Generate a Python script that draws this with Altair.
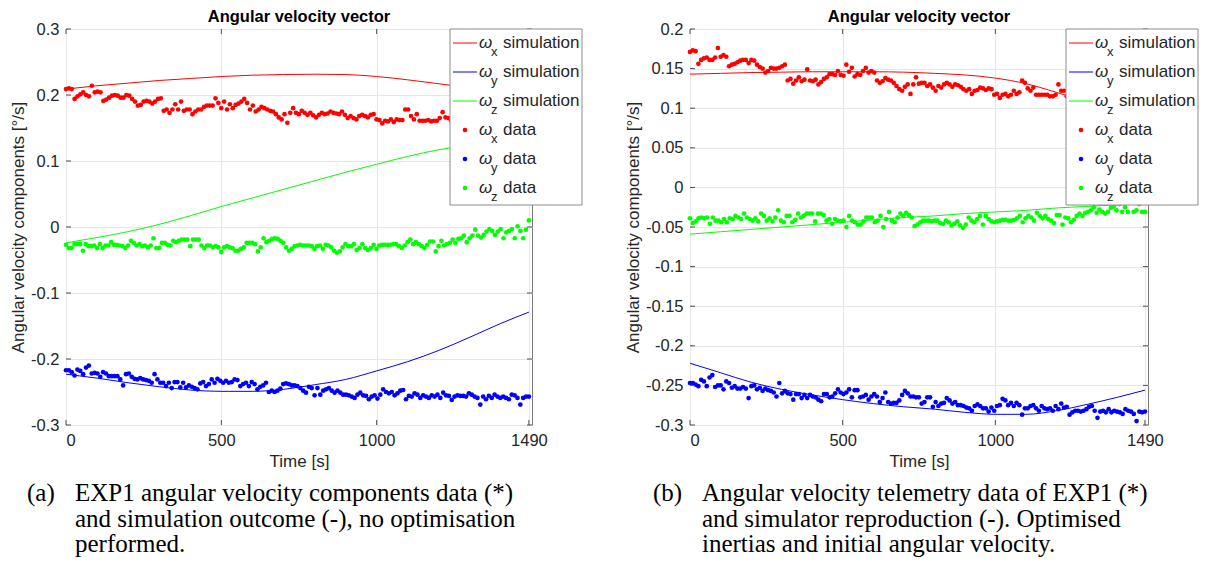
import altair as alt
import pandas as pd
import numpy as np

# ---------------- data ----------------
T_END = 1490
X_MAX = 1500

# panel (a): telemetry data
a_wx = [0.209,0.210,0.209,0.194,0.198,0.201,0.204,0.200,0.198,0.214,0.204,0.205,0.204,0.191,0.193,0.196,0.199,0.200,0.199,0.196,
        0.196,0.200,0.199,0.194,0.190,0.184,0.185,0.190,0.191,0.190,0.187,0.190,0.194,0.195,0.176,0.178,0.173,0.178,0.186,0.178,
        0.190,0.176,0.178,0.178,0.171,0.175,0.178,0.178,0.182,0.184,0.184,0.184,0.195,0.188,0.180,0.190,0.178,0.186,0.180,0.185,
        0.187,0.190,0.194,0.188,0.178,0.184,0.175,0.178,0.182,0.180,0.178,0.176,0.175,0.171,0.166,0.163,0.171,0.158,0.173,0.180,
        0.173,0.171,0.176,0.173,0.170,0.173,0.169,0.166,0.170,0.173,0.171,0.172,0.175,0.173,0.172,0.171,0.175,0.170,0.165,0.168,
        0.165,0.163,0.168,0.170,0.168,0.166,0.170,0.171,0.163,0.162,0.157,0.161,0.160,0.163,0.159,0.163,0.162,0.162,0.178,0.178,
        0.168,0.163,0.171,0.161,0.161,0.161,0.162,0.160,0.161,0.161,0.165,0.174,0.166,0.165,0.161,
        0.163,0.160,0.162,0.158,0.161,0.163,0.159,0.160,0.162,0.157,0.160,0.161,0.158,0.162,0.159,0.160,0.163,0.158,0.161,0.159,
        0.157,0.160,0.162,0.158,0.160,0.159,0.161]
a_wy = [-0.217,-0.217,-0.220,-0.225,-0.216,-0.218,-0.223,-0.213,-0.210,-0.222,-0.221,-0.222,-0.227,-0.220,-0.222,-0.226,-0.226,-0.226,-0.226,-0.231,
        -0.240,-0.223,-0.222,-0.227,-0.230,-0.231,-0.229,-0.231,-0.232,-0.233,-0.236,-0.223,-0.231,-0.236,-0.236,-0.241,-0.236,-0.244,-0.235,-0.235,
        -0.243,-0.236,-0.243,-0.240,-0.242,-0.244,-0.246,-0.237,-0.235,-0.241,-0.238,-0.231,-0.236,-0.230,-0.233,-0.236,-0.233,-0.236,-0.235,-0.231,
        -0.232,-0.241,-0.238,-0.236,-0.241,-0.235,-0.238,-0.246,-0.242,-0.240,-0.236,-0.250,-0.248,-0.250,-0.248,-0.245,-0.238,-0.237,-0.238,-0.240,
        -0.240,-0.241,-0.244,-0.248,-0.251,-0.242,-0.244,-0.255,-0.244,-0.254,-0.248,-0.246,-0.244,-0.248,-0.251,-0.248,-0.251,-0.254,-0.254,-0.255,
        -0.257,-0.259,-0.254,-0.251,-0.255,-0.256,-0.261,-0.257,-0.255,-0.260,-0.254,-0.246,-0.250,-0.252,-0.250,-0.255,-0.252,-0.248,-0.247,-0.261,
        -0.256,-0.257,-0.252,-0.254,-0.259,-0.255,-0.257,-0.259,-0.255,-0.257,-0.254,-0.259,-0.251,-0.255,-0.256,-0.262,-0.257,-0.255,-0.256,-0.256,
        -0.257,-0.252,-0.254,-0.257,-0.259,-0.269,-0.257,-0.261,-0.256,-0.259,-0.254,-0.257,-0.259,-0.257,-0.259,-0.261,-0.254,-0.255,-0.259,-0.269,
        -0.259,-0.257,-0.257]
a_wz = [-0.027,-0.032,-0.032,-0.026,-0.026,-0.026,-0.036,-0.026,-0.029,-0.029,-0.028,-0.032,-0.026,-0.032,-0.028,-0.028,-0.023,-0.027,-0.027,-0.028,
        -0.029,-0.032,-0.028,-0.021,-0.024,-0.028,-0.026,-0.029,-0.028,-0.031,-0.028,-0.017,-0.032,-0.032,-0.024,-0.024,-0.027,-0.028,-0.021,-0.023,
        -0.021,-0.019,-0.019,-0.019,-0.029,-0.019,-0.019,-0.019,-0.028,-0.032,-0.028,-0.028,-0.031,-0.029,-0.031,-0.038,-0.031,-0.029,-0.031,-0.032,
        -0.036,-0.036,-0.033,-0.031,-0.024,-0.024,-0.024,-0.026,-0.037,-0.031,-0.017,-0.023,-0.021,-0.018,-0.017,-0.018,-0.021,-0.024,-0.031,-0.036,
        -0.033,-0.029,-0.028,-0.027,-0.028,-0.028,-0.028,-0.029,-0.033,-0.029,-0.028,-0.033,-0.027,-0.028,-0.031,-0.036,-0.039,-0.037,-0.031,-0.026,
        -0.029,-0.029,-0.026,-0.035,-0.032,-0.026,-0.032,-0.035,-0.032,-0.027,-0.033,-0.028,-0.027,-0.027,-0.027,-0.027,-0.026,-0.026,-0.029,-0.032,
        -0.028,-0.023,-0.019,-0.026,-0.023,-0.026,-0.029,-0.032,-0.027,-0.022,-0.022,-0.037,-0.029,-0.021,-0.028,-0.026,-0.024,-0.019,-0.024,-0.018,
        -0.017,-0.013,-0.023,-0.017,-0.013,-0.004,-0.013,-0.016,-0.012,-0.007,-0.003,-0.006,-0.012,-0.007,-0.003,-0.017,-0.008,-0.006,-0.003,-0.017,
        0.001,-0.006,-0.017,-0.004,0.010]

# panel (a): simulation (knots every 100 s)
sim_t = [0, 100, 200, 300, 400, 500, 600, 700, 800, 900, 1000, 1100, 1200, 1300, 1400, 1490]
a_wx_sim = [0.209,0.214,0.218,0.222,0.225,0.228,0.230,0.231,0.2315,0.231,0.228,0.223,0.217,0.211,0.205,0.200]
a_wy_sim = [-0.223,-0.229,-0.236,-0.242,-0.247,-0.249,-0.249,-0.246,-0.239,-0.231,-0.218,-0.204,-0.187,-0.167,-0.146,-0.129]
a_wz_sim = [-0.024,-0.016,-0.007,0.004,0.017,0.031,0.044,0.057,0.070,0.083,0.095,0.107,0.117,0.124,0.128,0.130]

# panel (b): telemetry data
b_wx = [0.171,0.173,0.172,0.156,0.161,0.163,0.164,0.161,0.161,0.164,0.176,0.165,0.167,0.165,0.153,0.155,0.156,0.158,0.160,0.161,
        0.161,0.157,0.161,0.160,0.155,0.152,0.150,0.145,0.147,0.151,0.150,0.150,0.151,0.153,0.155,0.135,0.137,0.131,0.135,0.139,
        0.134,0.136,0.149,0.135,0.134,0.136,0.130,0.133,0.137,0.139,0.143,0.143,0.142,0.147,0.142,0.141,0.155,0.146,0.151,0.140,
        0.143,0.142,0.147,0.151,0.145,0.147,0.145,0.135,0.132,0.134,0.138,0.136,0.135,0.132,0.128,0.124,0.122,0.127,0.130,0.118,
        0.130,0.139,0.131,0.132,0.132,0.128,0.130,0.126,0.122,0.128,0.126,0.130,0.132,0.130,0.127,0.130,0.129,0.127,0.124,0.122,
        0.124,0.118,0.122,0.123,0.126,0.125,0.123,0.125,0.124,0.117,0.118,0.113,0.117,0.118,0.115,0.117,0.122,0.118,0.120,0.135,
        0.132,0.125,0.122,0.126,0.117,0.117,0.117,0.117,0.117,0.115,0.115,0.117,0.130,0.122,0.122,0.115,0.120,
        0.118,0.116,0.119,0.114,0.117,0.115,0.118,0.113,0.116,0.114,0.117,0.112,0.115,0.113,0.116,0.111,0.114,0.112,0.115,0.110,
        0.113,0.111,0.114,0.109,0.112,0.110,0.111]
b_wy = [-0.247,-0.247,-0.249,-0.251,-0.243,-0.245,-0.251,-0.240,-0.237,-0.252,-0.250,-0.250,-0.255,-0.245,-0.247,-0.253,-0.251,-0.254,-0.254,-0.252,
        -0.254,-0.266,-0.251,-0.250,-0.255,-0.253,-0.257,-0.254,-0.256,-0.257,-0.259,-0.264,-0.247,-0.260,-0.257,-0.260,-0.261,-0.268,-0.261,-0.261,
        -0.266,-0.262,-0.266,-0.262,-0.264,-0.265,-0.268,-0.270,-0.261,-0.261,-0.265,-0.264,-0.260,-0.255,-0.259,-0.261,-0.259,-0.255,-0.265,-0.256,
        -0.256,-0.265,-0.264,-0.262,-0.268,-0.264,-0.261,-0.264,-0.271,-0.266,-0.259,-0.271,-0.273,-0.272,-0.272,-0.269,-0.262,-0.257,-0.260,-0.264,
        -0.264,-0.265,-0.265,-0.273,-0.271,-0.265,-0.265,-0.277,-0.271,-0.276,-0.273,-0.272,-0.266,-0.269,-0.273,-0.271,-0.275,-0.275,-0.276,-0.278,
        -0.279,-0.282,-0.276,-0.274,-0.276,-0.279,-0.279,-0.283,-0.278,-0.282,-0.276,-0.275,-0.267,-0.269,-0.275,-0.272,-0.276,-0.272,-0.275,-0.287,
        -0.279,-0.279,-0.276,-0.275,-0.279,-0.282,-0.276,-0.279,-0.280,-0.279,-0.282,-0.276,-0.280,-0.273,-0.278,-0.277,-0.287,-0.284,-0.282,-0.282,
        -0.283,-0.282,-0.280,-0.277,-0.276,-0.282,-0.291,-0.283,-0.282,-0.284,-0.280,-0.284,-0.282,-0.283,-0.284,-0.286,-0.280,-0.282,-0.283,-0.286,
        -0.295,-0.283,-0.284,-0.283]
b_wz = [-0.039,-0.045,-0.043,-0.039,-0.038,-0.039,-0.038,-0.046,-0.038,-0.042,-0.042,-0.044,-0.040,-0.044,-0.039,-0.040,-0.036,-0.038,-0.040,-0.033,
        -0.038,-0.040,-0.042,-0.039,-0.043,-0.033,-0.036,-0.042,-0.039,-0.043,-0.038,-0.029,-0.042,-0.044,-0.036,-0.036,-0.044,-0.041,-0.033,-0.038,
        -0.036,-0.033,-0.033,-0.033,-0.043,-0.033,-0.033,-0.035,-0.042,-0.040,-0.046,-0.040,-0.042,-0.043,-0.042,-0.050,-0.036,-0.042,-0.044,-0.047,
        -0.047,-0.043,-0.038,-0.038,-0.038,-0.044,-0.042,-0.036,-0.050,-0.040,-0.031,-0.042,-0.044,-0.038,-0.033,-0.036,-0.032,-0.035,-0.038,-0.049,
        -0.047,-0.044,-0.042,-0.042,-0.042,-0.043,-0.042,-0.042,-0.045,-0.046,-0.042,-0.044,-0.048,-0.046,-0.043,-0.048,-0.051,-0.047,-0.038,-0.042,
        -0.044,-0.040,-0.036,-0.047,-0.036,-0.040,-0.043,-0.044,-0.043,-0.042,-0.041,-0.041,-0.042,-0.042,-0.041,-0.039,-0.036,-0.044,-0.039,-0.036,
        -0.038,-0.042,-0.032,-0.036,-0.039,-0.036,-0.040,-0.042,-0.045,-0.035,-0.035,-0.047,-0.038,-0.039,-0.044,-0.041,-0.036,-0.033,-0.036,-0.032,
        -0.031,-0.029,-0.025,-0.032,-0.028,-0.031,-0.033,-0.031,-0.026,-0.024,-0.029,-0.021,-0.031,-0.025,-0.031,-0.018,-0.031,-0.029,-0.021,-0.031,
        -0.031]

# panel (b): simulation
b_wx_sim = [0.143,0.144,0.145,0.1455,0.146,0.146,0.146,0.1455,0.144,0.142,0.138,0.131,0.120,0.108,0.097,0.090]
b_wy_sim = [-0.222,-0.234,-0.246,-0.255,-0.262,-0.268,-0.273,-0.277,-0.280,-0.284,-0.2865,-0.2865,-0.282,-0.274,-0.265,-0.256]
b_wz_sim = [-0.059,-0.056,-0.053,-0.050,-0.047,-0.044,-0.041,-0.038,-0.036,-0.033,-0.031,-0.029,-0.026,-0.024,-0.022,-0.021]

components = ["x", "y", "z"]
colors = ["#ff0000", "#0000ff", "#00ff00"]

legend_subs = ["x", "y", "z", "x", "y", "z"]
legend_words = ["simulation", "simulation", "simulation", "data", "data", "data"]
legend_kind = ["line", "line", "line", "point", "point", "point"]

title_text = "Angular velocity vector"
x_title = "Time [s]"
y_title = "Angular velocity components [°/s]"
x_ticks = [0, 500, 1000, 1490]
a_y_ticks = [-0.3, -0.2, -0.1, 0, 0.1, 0.2, 0.3]
b_y_ticks = [-0.3, -0.25, -0.2, -0.15, -0.1, -0.05, 0, 0.05, 0.1, 0.15, 0.2]

a_tag = "(a)"
a_caption = ["EXP1 angular velocity components data (*)",
             "and simulation outcome (-), no optimisation",
             "performed."]
b_tag = "(b)"
b_caption = ["Angular velocity telemetry data of EXP1 (*)",
             "and simulator reproduction (-). Optimised",
             "inertias and initial angular velocity."]

# ---------------- layout constants ----------------
H = 396
W_A, W_B = 466, 458
SANS = "Liberation Sans"
SERIF = "Liberation Serif"
TICK = 5
TICK_COLOR = "#4d4d4d"


def panel(W, data_series, sim_series, ydom, yticks, tag, caption, tag_x, body_x):
    pts = []
    for comp, vals in zip(components, data_series):
        t = np.linspace(0, T_END, len(vals))
        pts.append(pd.DataFrame({"t": t, "v": vals, "comp": comp}))
    pts = pd.concat(pts, ignore_index=True)
    sims = pd.concat([pd.DataFrame({"t": sim_t, "v": vals, "comp": comp})
                      for comp, vals in zip(components, sim_series)], ignore_index=True)

    xscale = alt.Scale(domain=[0, X_MAX], nice=False, zero=False)
    yscale = alt.Scale(domain=ydom, nice=False, zero=False)
    xaxis = alt.Axis(values=x_ticks, title=x_title, labelExpr="'' + datum.value", labelOverlap=False)
    yaxis = alt.Axis(values=yticks, title=y_title, labelExpr="'' + datum.value",
                     labelOverlap=False, labelBound=False)
    color = alt.Color("comp:N", scale=alt.Scale(domain=components, range=colors), legend=None)
    xenc = alt.X("t:Q", scale=xscale, axis=xaxis)
    yenc = alt.Y("v:Q", scale=yscale, axis=yaxis)

    lines = alt.Chart(sims).mark_line(strokeWidth=1, interpolate="monotone").encode(
        x=xenc, y=yenc, color=color, detail="comp:N")
    dots = alt.Chart(pts).mark_point(filled=True, size=22, opacity=1, shape="circle").encode(
        x=xenc, y=yenc, color=color)

    # inward tick marks on all four sides of the box (MATLAB style)
    xt = alt.Chart(pd.DataFrame({"t": x_ticks}))
    yt = alt.Chart(pd.DataFrame({"v": yticks}))
    tx_bot = xt.mark_rule(color=TICK_COLOR, strokeWidth=1).encode(
        x=xenc, y=alt.value(H), y2=alt.value(H - TICK))
    tx_top = xt.mark_rule(color=TICK_COLOR, strokeWidth=1).encode(
        x=xenc, y=alt.value(0), y2=alt.value(TICK))
    ty_left = yt.mark_rule(color=TICK_COLOR, strokeWidth=1).encode(
        y=yenc, x=alt.value(0), x2=alt.value(TICK))
    ty_right = yt.mark_rule(color=TICK_COLOR, strokeWidth=1).encode(
        y=yenc, x=alt.value(W - TICK), x2=alt.value(W))

    # panel title as a text mark just above the plot
    ttl = alt.Chart(pd.DataFrame({"txt": [title_text]})).mark_text(
        align="center", baseline="middle", font=SANS, fontSize=16.5, fontWeight="bold",
        color="black").encode(x=alt.value(W / 2), y=alt.value(-12.5), text="txt:N")

    # legend drawn by hand (subscripts are not possible in a built-in legend);
    # it sits across the top-right corner of the box, as in the original
    L0 = W - 82
    leg = pd.DataFrame({"i": range(6), "sub": legend_subs, "word": legend_words,
                        "kind": legend_kind, "comp": components * 2})
    box = alt.Chart(pd.DataFrame({"k": [0]})).mark_rect(
        fill="white", stroke="#8c8c8c", strokeWidth=1).encode(
        x=alt.value(L0), x2=alt.value(L0 + 132), y=alt.value(0), y2=alt.value(176))
    base = alt.Chart(leg).transform_calculate(py="14 + 29 * datum.i")
    py = alt.Y("py:Q", scale=None, axis=None)
    lcolor = alt.Color("comp:N", scale=alt.Scale(domain=components, range=colors), legend=None)
    leg_lines = base.transform_filter("datum.kind == 'line'").mark_rule(strokeWidth=1).encode(
        x=alt.value(L0 + 3), x2=alt.value(L0 + 27), y=py, color=lcolor)
    leg_dots = base.transform_filter("datum.kind == 'point'").mark_point(
        filled=True, size=22, opacity=1, shape="circle").encode(x=alt.value(L0 + 15), y=py, color=lcolor)
    leg_omega = base.mark_text(align="left", baseline="middle", font=SANS, fontSize=17,
                               fontStyle="italic", color="#262626").encode(
        x=alt.value(L0 + 29), y=py, text=alt.value("ω"))
    leg_sub = base.transform_calculate(ps="datum.py + 9").mark_text(
        align="left", baseline="middle", font=SANS, fontSize=13, color="#262626").encode(
        x=alt.value(L0 + 41), y=alt.Y("ps:Q", scale=None, axis=None), text="sub:N")
    leg_word = base.mark_text(align="left", baseline="middle", font=SANS, fontSize=17,
                              color="#262626").encode(x=alt.value(L0 + 53), y=py, text="word:N")

    cap = pd.DataFrame({"line": range(len(caption)), "txt": caption})
    cap_base = alt.Chart(cap).transform_calculate(py="472 + 25.5 * datum.line")
    cap_text = cap_base.mark_text(align="left", baseline="alphabetic", font=SERIF, fontSize=25,
                                  color="black").encode(
        x=alt.value(body_x), y=alt.Y("py:Q", scale=None, axis=None), text="txt:N")
    cap_tag = alt.Chart(pd.DataFrame({"txt": [tag]})).mark_text(
        align="left", baseline="alphabetic", font=SERIF, fontSize=25, color="black").encode(
        x=alt.value(tag_x), y=alt.value(472), text="txt:N")

    return alt.layer(lines, dots, tx_bot, tx_top, ty_left, ty_right, box, leg_lines, leg_dots,
                     leg_omega, leg_sub, leg_word, ttl, cap_text, cap_tag).properties(width=W, height=H)


left = panel(W_A, [a_wx, a_wy, a_wz], [a_wx_sim, a_wy_sim, a_wz_sim], [-0.3, 0.3], a_y_ticks,
             a_tag, a_caption, -39, 9)
right = panel(W_B, [b_wx, b_wy, b_wz], [b_wx_sim, b_wy_sim, b_wz_sim], [-0.3, 0.2], b_y_ticks,
              b_tag, b_caption, -37, 12)

chart = alt.hconcat(left, right, spacing=40).properties(
    padding={"left": 1, "top": 0, "right": 0, "bottom": 0}
).configure_view(stroke="#7a7a7a", strokeWidth=1).configure_axis(
    grid=True, gridColor="#e6e6e6", gridWidth=1, domain=False, ticks=False, tickSize=0,
    labelFont=SANS, labelFontSize=16.5, labelColor="#262626",
    titleFont=SANS, titleFontSize=17, titleFontWeight="normal", titleColor="#262626"
).configure_axisX(labelPadding=7, titlePadding=5).configure_axisY(labelPadding=7, titlePadding=3)

chart.save("out.html", embed_options={"renderer": "svg", "actions": False})
